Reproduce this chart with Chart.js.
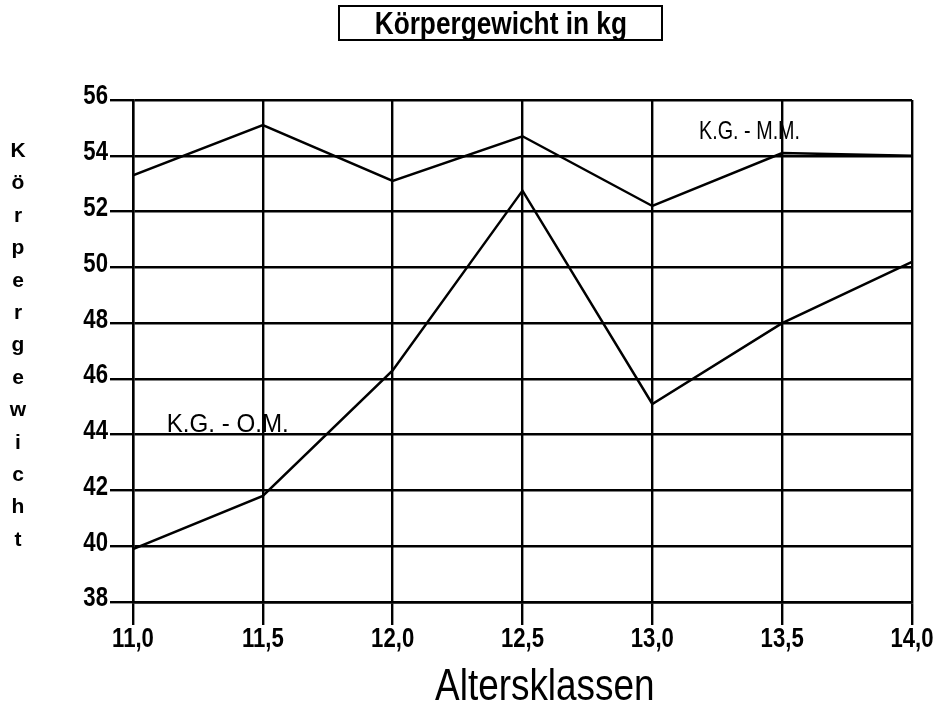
<!DOCTYPE html>
<html>
<head>
<meta charset="utf-8">
<script src="https://cdn.jsdelivr.net/npm/chart.js@4"></script>
<style>
  body { margin: 0; background: #fff; }
  #wrap { position: relative; width: 947px; height: 718px; }
  #titleBox {
    position: absolute; left: 338px; top: 5px; width: 321px; height: 32px;
    border: 2px solid #000; text-align: center; overflow: hidden;
    font: bold 32px "Liberation Sans", sans-serif;
    line-height: 32px; color: #000;
  }
  #titleBox span, #xTitle span { display: inline-block; transform: scaleX(0.82); white-space: nowrap; }
  #yTitle {
    position: absolute; left: 6px; top: 134px; width: 24px; text-align: center;
    font: bold 21px "Liberation Sans", sans-serif; line-height: 32.4px; color: #000;
  }
  #xTitle {
    position: absolute; left: 395px; top: 660px; width: 300px; text-align: center;
    font: 45px "Liberation Sans", sans-serif; line-height: 50px; color: #000;
  }
</style>
</head>
<body>
<div id="wrap">
  <canvas id="chart" width="947" height="718"></canvas>
  <div id="titleBox"><span>Körpergewicht in kg</span></div>
  <div id="yTitle"></div>
  <div id="xTitle"><span></span></div>
</div>
<script>
// data
const ages = [11.0, 11.5, 12.0, 12.5, 13.0, 13.5, 14.0];
const weightMM = [53.3, 55.1, 53.1, 54.7, 52.2, 54.1, 54.0];
const weightOM = [39.9, 41.8, 46.3, 52.75, 45.1, 48.0, 50.2];
const yTicks = [38, 40, 42, 44, 46, 48, 50, 52, 54, 56];
const seriesNames = ["K.G. - M.M.", "K.G. - O.M."];
const yAxisTitle = "Körpergewicht";
const xAxisTitle = "Altersklassen";

const squeeze = 0.82;

document.querySelector("#yTitle").innerHTML = yAxisTitle.split("").join("<br>");
document.querySelector("#xTitle span").textContent = xAxisTitle;

function toPoints(values) {
  return ages.map((a, i) => ({ x: a, y: values[i] }));
}

function fmt(v) {
  return v.toFixed(1).replace(".", ",");
}

// text squeezed horizontally, like a narrow typeface
function narrowText(ctx, text, x, y, align, width) {
  const w = ctx.measureText(text).width;
  const sx = width ? width / w : squeeze;
  ctx.save();
  ctx.translate(x, y);
  ctx.scale(sx, 1);
  ctx.textAlign = align;
  ctx.fillText(text, 0, 0);
  ctx.restore();
}

// tick labels and series names
const narrowLabels = {
  id: "narrowLabels",
  afterDraw(chart) {
    const ctx = chart.ctx;
    const xs = chart.scales.x;
    const ys = chart.scales.y;
    ctx.save();
    ctx.fillStyle = "#000";
    ctx.textBaseline = "middle";
    ctx.font = 'bold 27px "Liberation Sans", sans-serif';
    ys.ticks.forEach((t) => {
      narrowText(ctx, String(t.value), 108, ys.getPixelForValue(t.value) - 3, "right");
    });
    xs.ticks.forEach((t) => {
      narrowText(ctx, fmt(t.value), xs.getPixelForValue(t.value), 640, "center");
    });
    ctx.font = '25px "Liberation Sans", sans-serif';
    narrowText(ctx, seriesNames[0], xs.getPixelForValue(13.18), ys.getPixelForValue(54.85), "left", 101);
    narrowText(ctx, seriesNames[1], xs.getPixelForValue(11.13), ys.getPixelForValue(44.35), "left", 122);
    ctx.restore();
  },
};

const config = {
  type: "line",
  data: {
    datasets: [
      {
        label: seriesNames[0],
        data: toPoints(weightMM),
        borderColor: "#000",
        borderWidth: 2.5,
        pointRadius: 0,
        tension: 0,
      },
      {
        label: seriesNames[1],
        data: toPoints(weightOM),
        borderColor: "#000",
        borderWidth: 2.5,
        pointRadius: 0,
        tension: 0,
      },
    ],
  },
  options: {
    responsive: false,
    animation: false,
    layout: { padding: { top: 100, right: 35, left: 0, bottom: 0 } },
    plugins: { legend: { display: false }, tooltip: { enabled: false } },
    scales: {
      x: {
        type: "linear",
        min: 11,
        max: 14,
        afterFit: (scale) => { scale.height = 116; },
        grid: { color: "#000", lineWidth: 2.4, tickLength: 23 },
        border: { color: "#000", width: 2.4 },
        ticks: { stepSize: 0.5, display: false },
      },
      y: {
        min: 38,
        max: 56,
        afterFit: (scale) => { scale.width = 133; },
        afterBuildTicks: (scale) => { scale.ticks = yTicks.map((v) => ({ value: v })); },
        grid: { color: "#000", lineWidth: 2.4, tickLength: 23 },
        border: { color: "#000", width: 2.4 },
        ticks: { display: false },
      },
    },
  },
  plugins: [narrowLabels],
};

new Chart(document.getElementById("chart"), config);
</script>
</body>
</html>
